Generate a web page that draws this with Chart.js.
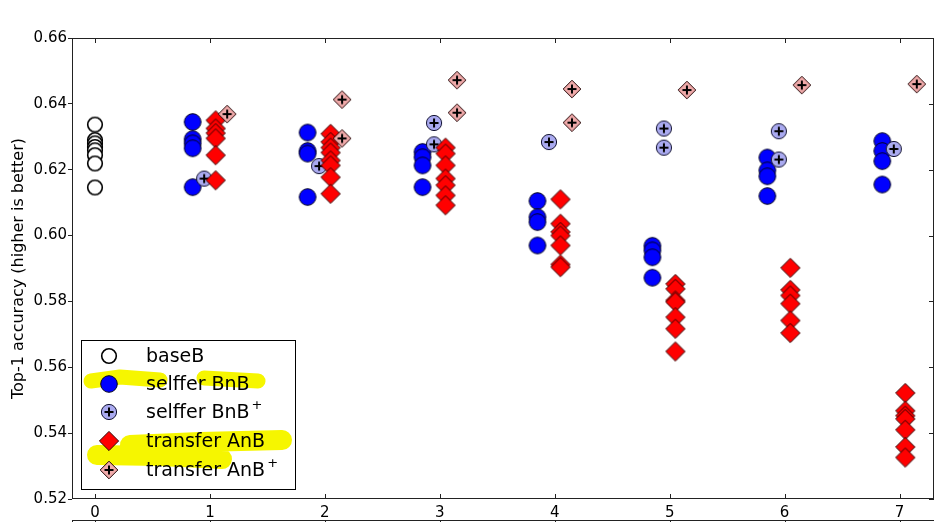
<!DOCTYPE html>
<html lang="en">
<head>
    <meta charset="UTF-8">
    <title>Top-1 accuracy per layer</title>
    <script src="https://cdn.jsdelivr.net/npm/chart.js"></script>
    <style>
        html, body { margin: 0; padding: 0; background: #fff; }
        #wrap { width: 946px; height: 522px; }
    </style>
</head>
<body>
    <div id="wrap"><canvas id="myChart" width="946" height="522"></canvas></div>
    <script>
        // layer index on the x axis
        const layers = [0, 1, 2, 3, 4, 5, 6, 7];
        const yTicks = [0.52, 0.54, 0.56, 0.58, 0.60, 0.62, 0.64, 0.66];

        // one inner list per layer
        const baseB = [
            [0.6337, 0.6290, 0.6280, 0.6269, 0.6259, 0.6244, 0.6219, 0.6146]
        ];
        const selfferBnB = [
            [],
            [0.6345, 0.6293, 0.6280, 0.6265, 0.6147],
            [0.6313, 0.6257, 0.6249, 0.6117],
            [0.6254, 0.6238, 0.6213, 0.6147],
            [0.6105, 0.6056, 0.6041, 0.5970],
            [0.5969, 0.5955, 0.5934, 0.5872],
            [0.6237, 0.6198, 0.6180, 0.6120],
            [0.6287, 0.6257, 0.6226, 0.6155]
        ];
        const selfferBnBPlus = [
            [],
            [0.6173],
            [0.6211],
            [0.6342, 0.6277],
            [0.6284],
            [0.6325, 0.6267],
            [0.6317, 0.6231],
            [0.6263]
        ];
        const transferAnB = [
            [],
            [0.6350, 0.6325, 0.6311, 0.6295, 0.6244, 0.6168],
            [0.6309, 0.6284, 0.6267, 0.6252, 0.6228, 0.6213, 0.6177, 0.6127],
            [0.6267, 0.6249, 0.6213, 0.6173, 0.6153, 0.6122, 0.6092],
            [0.6110, 0.6036, 0.6011, 0.6000, 0.5970, 0.5912, 0.5904],
            [0.5853, 0.5838, 0.5803, 0.5798, 0.5752, 0.5717, 0.5648],
            [0.5902, 0.5835, 0.5818, 0.5793, 0.5742, 0.5704],
            [0.5522, 0.5468, 0.5453, 0.5443, 0.5410, 0.5358, 0.5326]
        ];
        const transferAnBPlus = [
            [],
            [0.6369],
            [0.6413, 0.6295],
            [0.6472, 0.6373],
            [0.6445, 0.6343],
            [0.6442],
            [0.6457],
            [0.6460]
        ];

        const FONT = '"DejaVu Sans", Verdana, sans-serif';

        // draw a matplotlib-like marker into a small canvas
        function makeMarker(shape, fill, edge, r, plus) {
            const c = document.createElement('canvas');
            c.width = 26; c.height = 26;
            const g = c.getContext('2d');
            const m = 13;
            g.beginPath();
            if (shape === 'circle') {
                g.arc(m, m, r, 0, Math.PI * 2);
            } else {
                g.moveTo(m, m - r); g.lineTo(m + r, m); g.lineTo(m, m + r); g.lineTo(m - r, m); g.closePath();
            }
            g.fillStyle = fill;
            g.fill();
            g.lineWidth = shape === 'circle' && fill === '#ffffff' ? 1.6 : 1;
            g.strokeStyle = edge;
            g.stroke();
            if (plus) {
                g.beginPath();
                g.moveTo(m - 4.5, m); g.lineTo(m + 4.5, m);
                g.moveTo(m, m - 4.5); g.lineTo(m, m + 4.5);
                g.lineWidth = 2;
                g.strokeStyle = '#000';
                g.stroke();
            }
            return c;
        }

        const markers = {
            base: makeMarker('circle', '#ffffff', '#000000', 7.3, false),
            bnb: makeMarker('circle', '#0000ff', '#000022', 8.3, false),
            bnbPlus: makeMarker('circle', '#aaaaf0', '#101030', 7.6, true),
            anb: makeMarker('diamond', '#ff0000', '#300000', 9.6, false),
            anbPlus: makeMarker('diamond', '#f0aaaa', '#200000', 8.8, true)
        };

        function toPoints(groups, offset) {
            const pts = [];
            groups.forEach((vals, i) => {
                vals.forEach(v => pts.push({ x: layers[i] + offset, y: v }));
            });
            return pts;
        }

        const series = [
            { label: 'baseB', data: toPoints(baseB, 0), marker: markers.base },
            { label: 'selffer BnB', data: toPoints(selfferBnB, -0.15), marker: markers.bnb },
            { label: 'selffer BnB', sup: '+', data: toPoints(selfferBnBPlus, -0.05), marker: markers.bnbPlus },
            { label: 'transfer AnB', data: toPoints(transferAnB, 0.05), marker: markers.anb },
            { label: 'transfer AnB', sup: '+', data: toPoints(transferAnBPlus, 0.15), marker: markers.anbPlus }
        ];

        const datasets = series.map((s, i) => ({
            label: s.label + (s.sup ? s.sup : ''),
            data: s.data,
            pointStyle: s.marker,
            pointRadius: 10,
            pointHoverRadius: 10,
            showLine: false,
            order: series.length - i,
            clip: false
        }));

        // frame, inward ticks, the next panel's top edge, legend
        const framePlugin = {
            id: 'frame',
            beforeDatasetsDraw(chart) {
                const { ctx, chartArea: a, scales } = chart;
                ctx.save();
                ctx.strokeStyle = '#222';
                ctx.lineWidth = 1;
                ctx.strokeRect(a.left + 0.5, a.top + 0.5, a.right - a.left - 1, a.bottom - a.top - 1);
                ctx.beginPath();
                layers.forEach(v => {
                    const px = Math.round(scales.x.getPixelForValue(v)) + 0.5;
                    ctx.moveTo(px, a.top); ctx.lineTo(px, a.top + 5);
                    ctx.moveTo(px, a.bottom); ctx.lineTo(px, a.bottom - 5);
                    // next subplot, mostly cut off
                    ctx.moveTo(px, 520); ctx.lineTo(px, 524);
                });
                yTicks.forEach(v => {
                    const py = Math.round(scales.y.getPixelForValue(v)) + 0.5;
                    ctx.moveTo(a.right, py); ctx.lineTo(a.right - 5, py);
                });
                ctx.moveTo(a.left, 520.5); ctx.lineTo(a.right, 520.5);
                ctx.moveTo(a.left + 0.5, 520.5); ctx.lineTo(a.left + 0.5, 524);
                ctx.stroke();
                ctx.restore();
            },
            afterDraw(chart) {
                const { ctx } = chart;
                ctx.save();
                // legend box
                ctx.fillStyle = '#fff';
                ctx.fillRect(81, 340, 214, 149);
                ctx.strokeStyle = '#000';
                ctx.lineWidth = 1;
                ctx.strokeRect(81.5, 340.5, 214, 149);

                // yellow highlighter strokes
                ctx.strokeStyle = '#f6f600';
                ctx.lineCap = 'round';
                ctx.lineJoin = 'round';
                ctx.lineWidth = 15;
                ctx.beginPath();
                ctx.moveTo(91, 381); ctx.lineTo(120, 377); ctx.lineTo(160, 380);
                ctx.moveTo(204, 378); ctx.lineTo(258, 381);
                ctx.stroke();
                ctx.lineWidth = 20;
                ctx.beginPath();
                ctx.moveTo(97, 455); ctx.lineTo(160, 456); ctx.lineTo(222, 459);
                ctx.moveTo(130, 445); ctx.lineTo(200, 442); ctx.lineTo(282, 440);
                ctx.stroke();

                const rowY = [356, 384, 412, 441, 470];
                series.forEach((s, i) => {
                    const m = s.marker;
                    ctx.drawImage(m, 109 - m.width / 2, rowY[i] - m.height / 2);
                    ctx.fillStyle = '#000';
                    ctx.textBaseline = 'middle';
                    ctx.font = '19px ' + FONT;
                    ctx.fillText(s.label, 146, rowY[i] + 1);
                    if (s.sup) {
                        const w = ctx.measureText(s.label).width;
                        ctx.font = '13px ' + FONT;
                        ctx.fillText(s.sup, 146 + w + 2, rowY[i] - 6);
                    }
                });
                ctx.restore();
            }
        };

        const ctx = document.getElementById('myChart').getContext('2d');
        const myChart = new Chart(ctx, {
            type: 'scatter',
            data: { datasets: datasets },
            options: {
                responsive: false,
                animation: false,
                events: [],
                layout: { padding: { top: 38, right: 12, left: 4, bottom: 0 } },
                plugins: {
                    legend: { display: false },
                    tooltip: { enabled: false }
                },
                scales: {
                    x: {
                        type: 'linear',
                        min: -0.2,
                        max: 7.3,
                        afterBuildTicks: s => { s.ticks = layers.map(v => ({ value: v })); },
                        afterFit: s => { s.height = 23; },
                        grid: { display: false },
                        border: { display: false },
                        ticks: {
                            padding: -3,
                            color: '#000',
                            font: { family: FONT, size: 15 },
                            maxRotation: 0,
                            callback: v => String(v)
                        }
                    },
                    y: {
                        min: 0.52,
                        max: 0.66,
                        afterBuildTicks: s => { s.ticks = yTicks.map(v => ({ value: v })); },
                        afterFit: s => { s.width = 68; },
                        grid: { drawOnChartArea: false, tickLength: 4, color: '#222' },
                        border: { display: false },
                        ticks: {
                            padding: 1,
                            color: '#000',
                            font: { family: FONT, size: 15 },
                            callback: v => v.toFixed(2)
                        },
                        title: {
                            display: true,
                            text: 'Top-1 accuracy (higher is better)',
                            color: '#000',
                            font: { family: FONT, size: 16 },
                            padding: { top: 5, bottom: 0 }
                        }
                    }
                }
            },
            plugins: [framePlugin]
        });
    </script>
</body>
</html>
